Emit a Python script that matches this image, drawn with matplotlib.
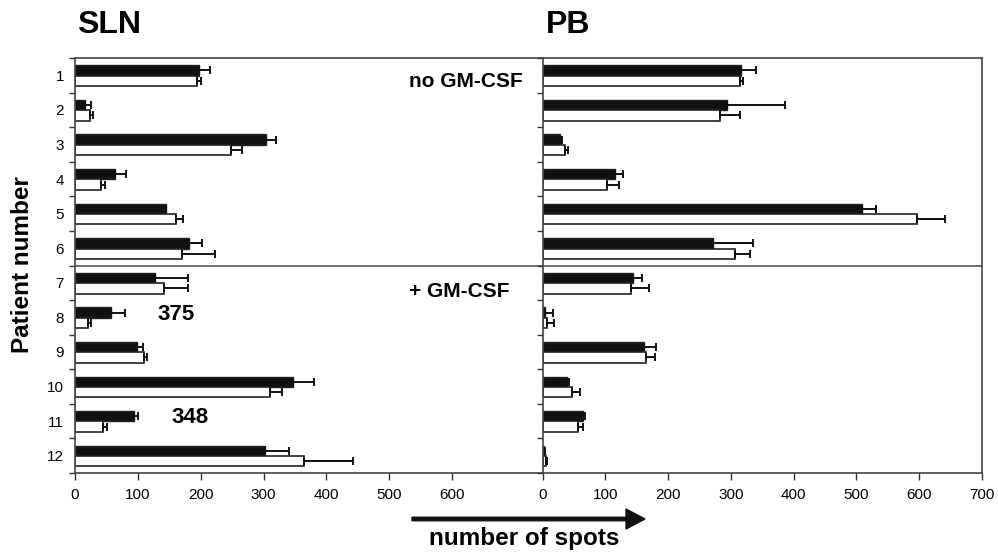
import matplotlib.pyplot as plt
from matplotlib.patches import FancyArrow

plt.rcParams['font.family'] = ['Liberation Sans', 'DejaVu Sans']

patients = ['1', '2', '3', '4', '5', '6', '7', '8', '9', '10', '11', '12']

# SLN values (black = first bar, white = second bar) and upper error
sln_black = [198, 16, 304, 63, 144, 182, 127, 58, 99, 347, 94, 302]
sln_black_err = [17, 9, 15, 18, 0, 20, 53, 22, 9, 33, 7, 39]
sln_white = [194, 24, 248, 41, 161, 171, 141, 20, 109, 310, 45, 365]
sln_white_err = [6, 5, 18, 7, 11, 52, 39, 6, 5, 19, 6, 77]

# PB values
pb_black = [316, 293, 28, 115, 508, 272, 144, 4, 162, 38, 65, 2]
pb_black_err = [24, 93, 3, 13, 23, 63, 15, 12, 19, 4, 3, 1]
pb_white = [315, 282, 35, 102, 597, 306, 141, 7, 165, 47, 56, 5]
pb_white_err = [4, 33, 6, 19, 44, 25, 29, 11, 14, 13, 9, 2]

W, H = 998, 553
fig = plt.figure(figsize=(W / 100, H / 100), dpi=100)

ax1 = fig.add_axes([75 / W, 1 - 473 / H, (542.7 - 75) / W, (473 - 58) / H])
ax2 = fig.add_axes([542.7 / W, 1 - 473 / H, (982 - 542.7) / W, (473 - 58) / H])

y = list(range(len(patients)))
yb = [i - 0.14 for i in y]
yw = [i + 0.16 for i in y]
edge = '#222222'

def draw(ax, black, berr, white, werr):
    ax.barh(yb, black, height=0.3, color='#111111', edgecolor=edge, linewidth=1.0,
            xerr=[[0] * len(black), berr],
            error_kw=dict(ecolor='#111111', elinewidth=1.4, capsize=3, capthick=1.4))
    ax.barh(yw, white, height=0.3, color='white', edgecolor=edge, linewidth=1.2,
            xerr=[[0] * len(white), werr],
            error_kw=dict(ecolor='#111111', elinewidth=1.4, capsize=3, capthick=1.4))
    ax.axhline(5.5, color='#555555', lw=1.2)
    ax.set_ylim(11.5, -0.5)
    ax.set_yticks(y)
    ax.set_yticks([i + 0.5 for i in range(-1, 12)], minor=True)
    ax.tick_params(axis='y', which='major', length=0, labelsize=11, pad=8)
    ax.tick_params(axis='y', which='minor', length=4, width=1.0, direction='out',
                   color='#333333')
    ax.tick_params(axis='x', length=5, width=1.0, direction='out', labelsize=11,
                   pad=6, color='#333333')
    for s in ax.spines.values():
        s.set_color('#444444')
        s.set_linewidth(1.2)

ax1.set_xlim(0, 744)
ax1.set_xticks([0, 100, 200, 300, 400, 500, 600])
ax2.set_xlim(0, 700)
ax2.set_xticks([0, 100, 200, 300, 400, 500, 600, 700])

draw(ax1, sln_black, sln_black_err, sln_white, sln_white_err)
draw(ax2, pb_black, pb_black_err, pb_white, pb_white_err)

ax1.set_yticklabels(patients)
ax1.spines['right'].set_visible(False)
ax2.set_yticklabels([])

fig.text(77 / W, 1 - 33 / H, 'SLN', fontsize=23, fontweight='bold',
         va='baseline', ha='left')
fig.text(546 / W, 1 - 33 / H, 'PB', fontsize=23, fontweight='bold',
         va='baseline', ha='left')

ax1.text(712, 0.19, 'no GM-CSF', fontsize=15, fontweight='bold',
         ha='right', va='center')
ax1.text(691, 6.26, '+ GM-CSF', fontsize=15, fontweight='bold',
         ha='right', va='center')
ax1.text(131, 6.93, '375', fontsize=16, fontweight='bold', ha='left', va='center')
ax1.text(153, 9.9, '348', fontsize=16, fontweight='bold', ha='left', va='center')

fig.text(23 / W, 1 - 265 / H, 'Patient number', rotation=90, fontsize=17.5,
         fontweight='bold', ha='center', va='center')

arrow = FancyArrow(412 / W, 1 - 519 / H, (645 - 412) / W, 0, width=3.5 / H,
                   head_width=20 / H, head_length=19 / W, length_includes_head=True,
                   color='#111111', transform=fig.transFigure)
fig.patches.append(arrow)
fig.text(524 / W, 1 - 545 / H, 'number of spots', fontsize=17.5,
         fontweight='bold', ha='center', va='baseline')

fig.savefig('out.png', dpi=100)
